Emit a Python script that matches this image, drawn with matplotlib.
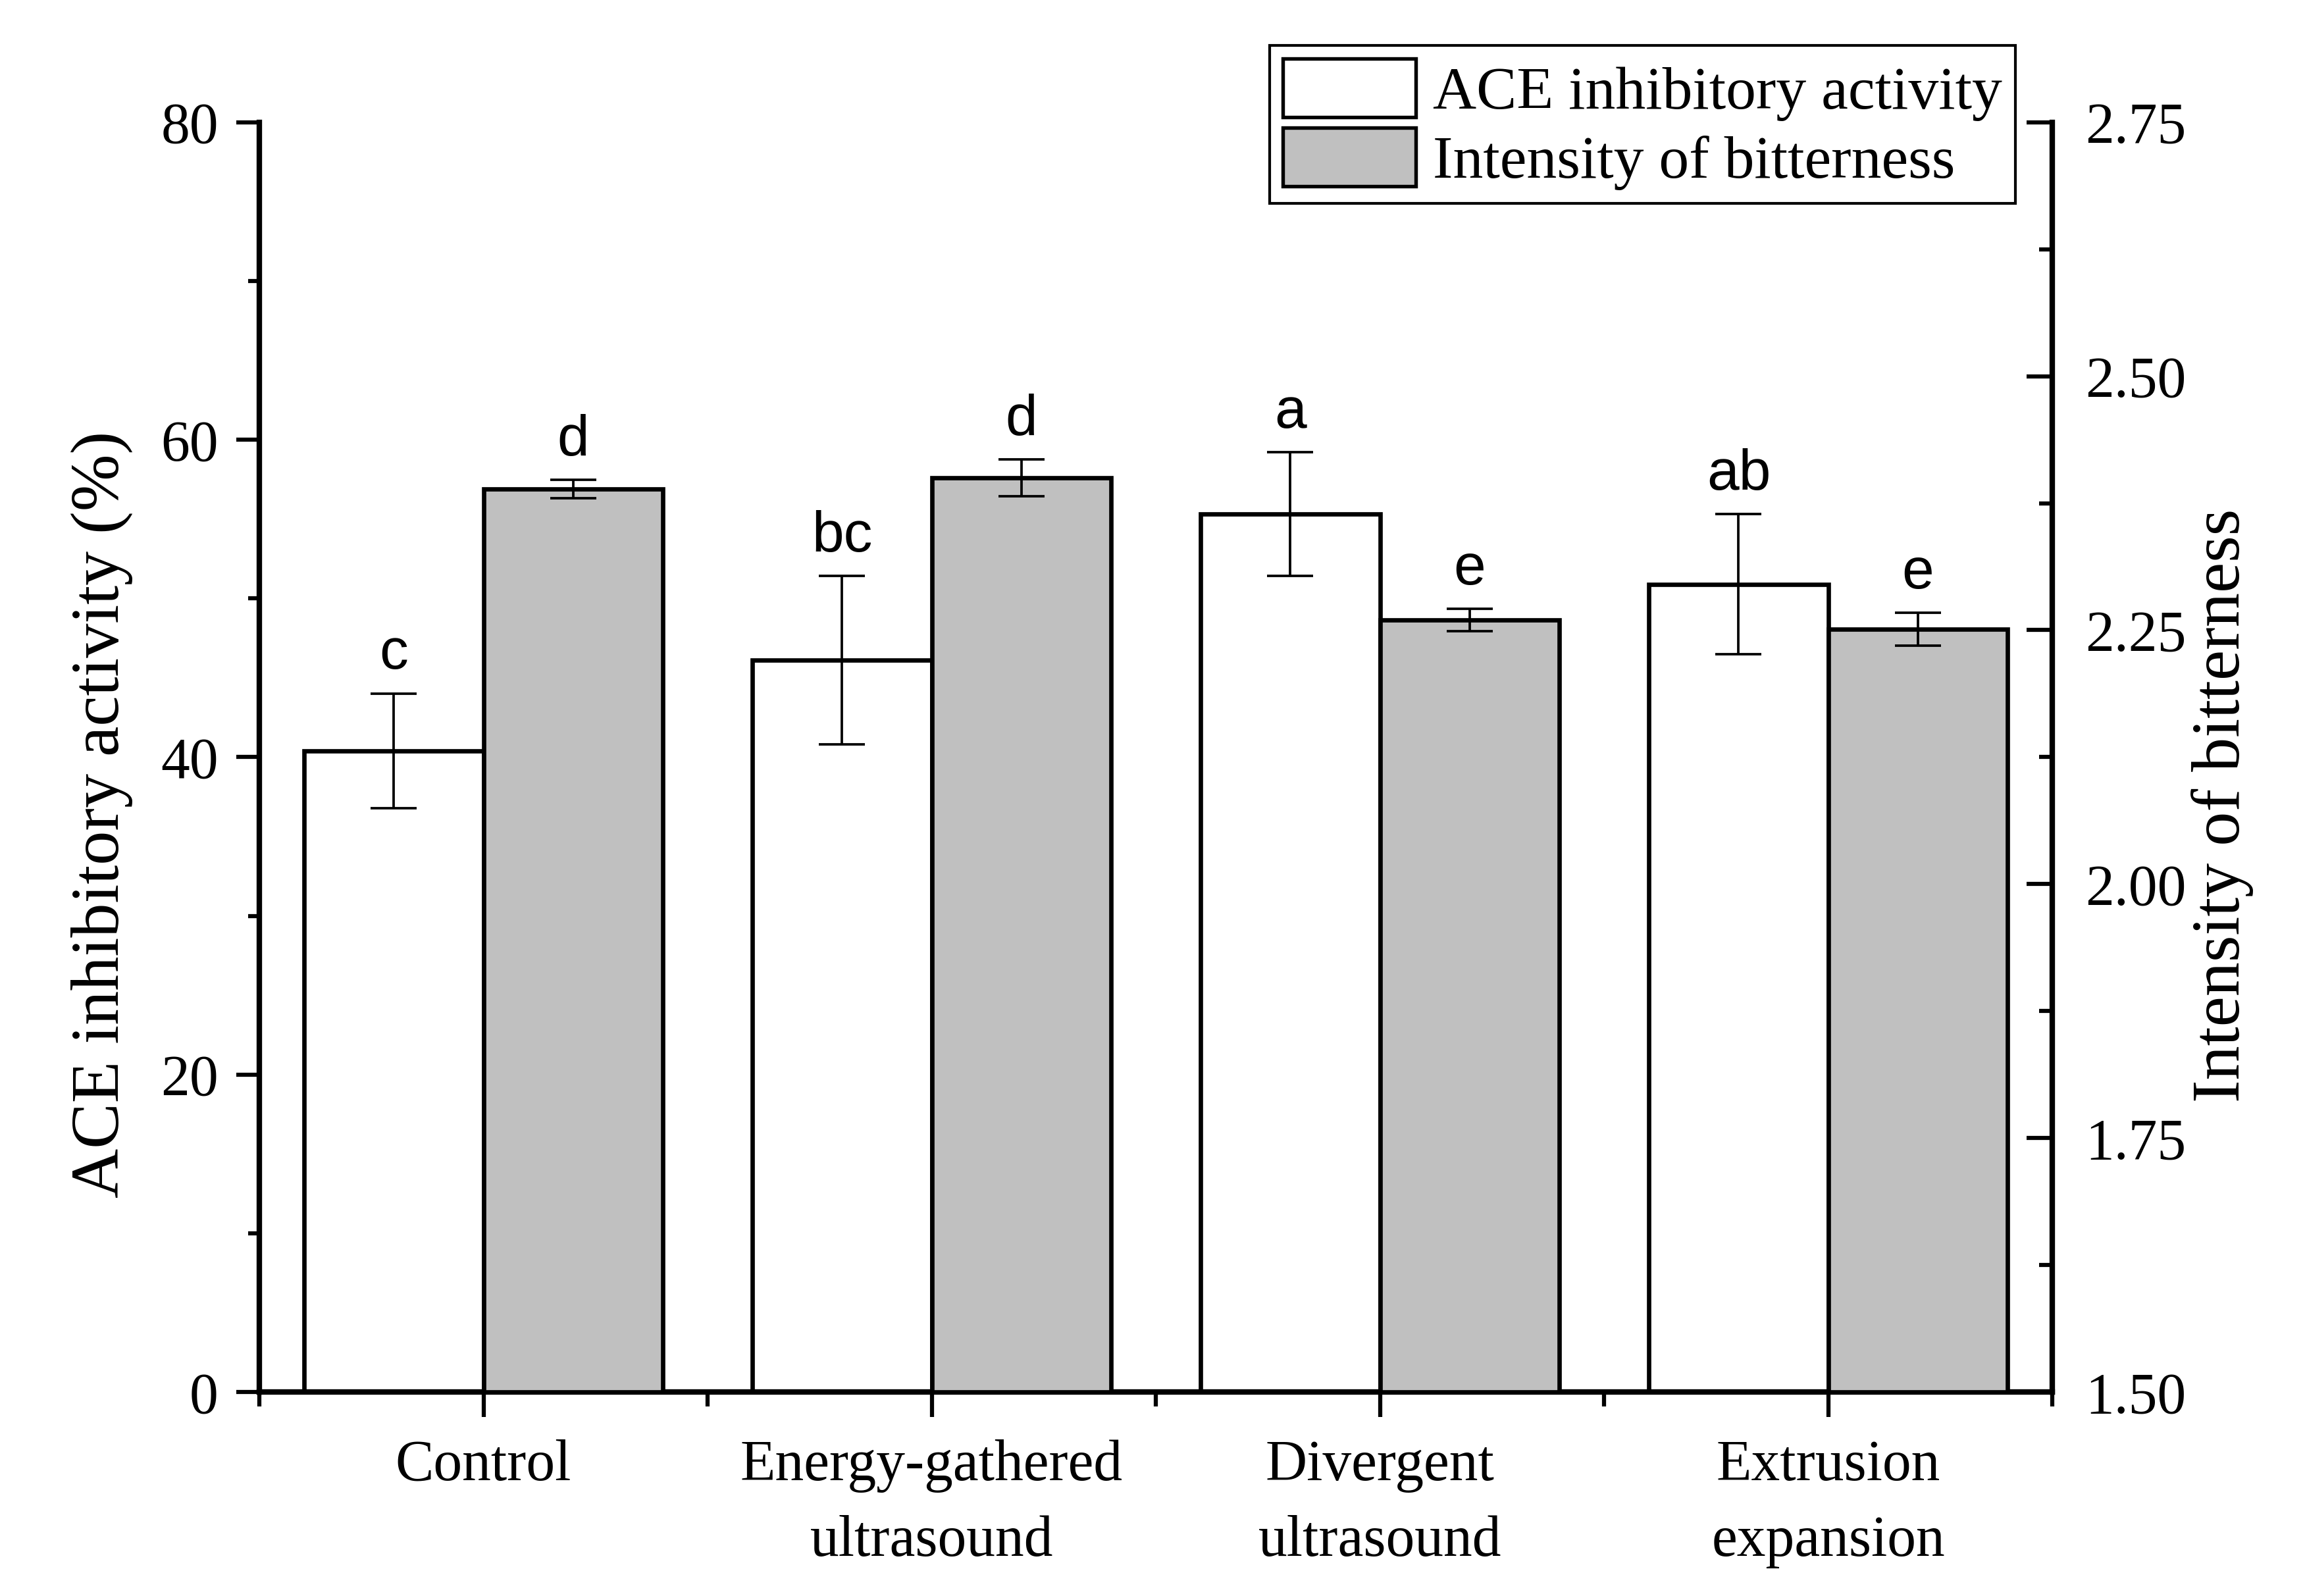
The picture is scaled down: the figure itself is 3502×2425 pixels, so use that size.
import matplotlib
matplotlib.use("Agg")
import matplotlib.pyplot as plt
import numpy as np
from matplotlib.ticker import MultipleLocator, FixedLocator
from matplotlib.patches import Patch

# ---- data ----
categories = ["Control", "Energy-gathered\nultrasound", "Divergent\nultrasound", "Extrusion\nexpansion"]
ace = [40.4, 46.1, 55.3, 50.9]
ace_err = [3.6, 5.3, 3.9, 4.4]
bitter = [2.389, 2.400, 2.260, 2.251]
bitter_err = [0.009, 0.018, 0.011, 0.016]
ace_letters = ["c", "bc", "a", "ab"]
bitter_letters = ["d", "d", "e", "e"]
left_ticks = [0, 20, 40, 60, 80]
right_ticks = [1.50, 1.75, 2.00, 2.25, 2.50, 2.75]

plt.rcParams['font.family'] = ['Liberation Serif', 'DejaVu Serif']

fig = plt.figure(figsize=(3502 / 300, 2425 / 300), dpi=300)
ax = fig.add_axes([0.1125, 0.1278, 0.7779, 0.7956])
ax2 = ax.twinx()

x = np.arange(1, len(categories) + 1)
w = 0.4
grey = '#C0C0C0'
blw = 1.6

ax.bar(x - w / 2, ace, width=w, color='white', edgecolor='black', linewidth=blw, zorder=2)
ax.errorbar(x - w / 2, ace, yerr=ace_err, fmt='none', ecolor='black', elinewidth=0.9,
            capsize=8.5, capthick=0.9, zorder=3)
ax2.bar(x + w / 2, [b - 1.5 for b in bitter], bottom=1.5, width=w, color=grey,
        edgecolor='black', linewidth=blw, zorder=2)
ax2.errorbar(x + w / 2, bitter, yerr=bitter_err, fmt='none', ecolor='black', elinewidth=0.9,
             capsize=8.5, capthick=0.9, zorder=3)

ax.set_xlim(0.5, 4.5)
ax.set_ylim(0, 80)
ax2.set_ylim(1.5, 2.75)

# letters
sans = ['Liberation Sans', 'DejaVu Sans']
for xi, v, e, t in zip(x - w / 2, ace, ace_err, ace_letters):
    ax.annotate(t, (xi, v + e), xytext=(0, 9), textcoords='offset points', ha='center',
                va='baseline', fontsize=21, family=sans)
for xi, v, e, t in zip(x + w / 2, bitter, bitter_err, bitter_letters):
    ax2.annotate(t, (xi, v + e), xytext=(0, 9), textcoords='offset points', ha='center',
                 va='baseline', fontsize=21, family=sans)

# spines
for a in (ax, ax2):
    a.spines['top'].set_visible(False)
ax.spines['right'].set_visible(False)
ax2.spines['left'].set_visible(False)
ax2.spines['bottom'].set_visible(False)
ax.spines['left'].set_linewidth(2.0)
ax.spines['bottom'].set_linewidth(2.0)
ax2.spines['right'].set_linewidth(2.0)

# ticks
ax.set_yticks(left_ticks)
ax.set_yticklabels([str(t) for t in left_ticks])
ax.yaxis.set_minor_locator(MultipleLocator(10))
ax.tick_params(axis='y', which='major', direction='out', length=8.4, width=1.5, pad=6.5, labelsize=21)
ax.tick_params(axis='y', which='minor', direction='out', length=4.2, width=1.5)

ax.set_xticks(x)
ax.set_xticklabels(categories, fontsize=21, linespacing=1.55)
ax.xaxis.set_minor_locator(FixedLocator([0.5, 1.5, 2.5, 3.5, 4.5]))
ax.tick_params(axis='x', which='major', direction='out', length=9.2, width=1.5, pad=8)
ax.tick_params(axis='x', which='minor', direction='out', length=5.3, width=1.5)

ax2.set_yticks(right_ticks)
ax2.set_yticklabels([f"{t:.2f}" for t in right_ticks])
ax2.yaxis.set_minor_locator(MultipleLocator(0.125))
ax2.tick_params(axis='y', which='major', direction='in', length=9.3, width=1.5, pad=12, labelsize=21)
ax2.tick_params(axis='y', which='minor', direction='in', length=4.8, width=1.5)

ax.set_ylabel("ACE inhibitory activity (%)", fontsize=25)
ax2.set_ylabel("Intensity of bitterness", fontsize=25)
ax.yaxis.set_label_coords(-0.0705, 0.455)
ax2.yaxis.set_label_coords(1.0775, 0.462)

handles = [Patch(facecolor='white', edgecolor='black', linewidth=1.3),
           Patch(facecolor=grey, edgecolor='black', linewidth=1.3)]
leg = ax2.legend(handles, ["ACE inhibitory activity", "Intensity of bitterness"],
                 loc='upper left', bbox_to_anchor=(0.5635, 1.0605), borderaxespad=0,
                 fontsize=22, fancybox=False, frameon=True, edgecolor='black',
                 framealpha=1, handlelength=2.2, handleheight=1.12, handletextpad=0.28,
                 labelspacing=0.11, borderpad=0.22)
leg.get_frame().set_linewidth(1.0)

fig.savefig("out.png", dpi=300)
